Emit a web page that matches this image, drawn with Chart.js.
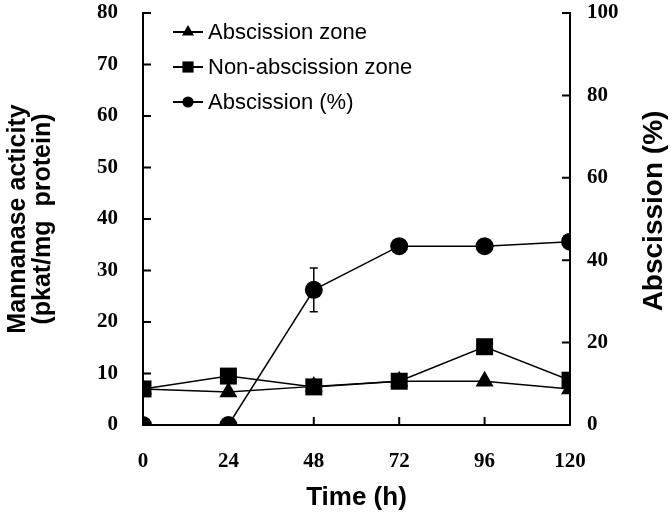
<!DOCTYPE html>
<html>
<head>
<meta charset="utf-8">
<script src="https://cdn.jsdelivr.net/npm/chart.js@4.4.1/dist/chart.umd.min.js"></script>
<style>
  html, body { margin: 0; padding: 0; background: #fff; }
  #wrap { width: 672px; height: 519px; }
</style>
</head>
<body>
<div id="wrap"><canvas id="chart"></canvas></div>
<script>
// time points (h)
const hours = [0, 24, 48, 72, 96, 120];
// mannanase activity, pkat/mg protein
const abscissionZone = [7.0, 6.4, 7.5, 8.5, 8.5, 7.0];
const nonAbscissionZone = [7.0, 9.5, 7.4, 8.5, 15.2, 8.7];
// abscission (%) on right axis
const abscissionPct = [0, 0, 32.8, 43.4, 43.4, 44.5];
const abscissionErr = [0, 0, 5.3, 0, 0, 0];

const seriesNames = ['Abscission zone', 'Non-abscission zone', 'Abscission (%)'];

const tickFont = { family: '"Liberation Serif", "Times New Roman", serif', size: 21, weight: 'bold' };
const titleFamily = '"Liberation Sans", Arial, sans-serif';

const toPoints = (ys) => hours.map((h, i) => ({ x: h, y: ys[i] }));

// ticks drawn inward from each axis line
const inwardTicks = {
    id: 'inwardTicks',
    afterDraw(chart) {
        const { ctx, chartArea } = chart;
        const len = 8;
        ctx.save();
        ctx.strokeStyle = '#000';
        ctx.lineWidth = 2;
        ctx.beginPath();
        chart.scales.x.ticks.forEach((t) => {
            const px = chart.scales.x.getPixelForValue(t.value);
            ctx.moveTo(px, chartArea.bottom);
            ctx.lineTo(px, chartArea.bottom - len);
        });
        chart.scales.y.ticks.forEach((t) => {
            const py = chart.scales.y.getPixelForValue(t.value);
            ctx.moveTo(chartArea.left, py);
            ctx.lineTo(chartArea.left + len, py);
        });
        chart.scales.y1.ticks.forEach((t) => {
            const py = chart.scales.y1.getPixelForValue(t.value);
            ctx.moveTo(chartArea.right, py);
            ctx.lineTo(chartArea.right - len, py);
        });
        ctx.stroke();
        ctx.restore();
    }
};

const errorBars = {
    id: 'errorBars',
    afterDatasetsDraw(chart) {
        const { ctx } = chart;
        const xs = chart.scales.x;
        const ys = chart.scales.y1;
        ctx.save();
        ctx.strokeStyle = '#000';
        ctx.lineWidth = 1.5;
        ctx.beginPath();
        hours.forEach((h, i) => {
            const err = abscissionErr[i];
            if (!err) return;
            const px = xs.getPixelForValue(h);
            const top = ys.getPixelForValue(abscissionPct[i] + err);
            const bot = ys.getPixelForValue(abscissionPct[i] - err);
            ctx.moveTo(px, top);
            ctx.lineTo(px, bot);
            ctx.moveTo(px - 4, top);
            ctx.lineTo(px + 4, top);
            ctx.moveTo(px - 4, bot);
            ctx.lineTo(px + 4, bot);
        });
        ctx.stroke();
        ctx.restore();
    }
};

function drawMarker(ctx, style, x, y, r) {
    ctx.beginPath();
    if (style === 'triangle') {
        ctx.moveTo(x, y - r);
        ctx.lineTo(x + r * 0.866, y + r * 0.5);
        ctx.lineTo(x - r * 0.866, y + r * 0.5);
        ctx.closePath();
    } else if (style === 'rect') {
        ctx.rect(x - r * 0.8, y - r * 0.8, r * 1.6, r * 1.6);
    } else {
        ctx.arc(x, y, r * 0.8, 0, Math.PI * 2);
    }
    ctx.fill();
}

// legend sits inside the plot, top-left; right title reads bottom-to-top
const insideLegend = {
    id: 'insideLegend',
    afterDraw(chart) {
        const { ctx } = chart;
        ctx.save();
        ctx.fillStyle = '#000';
        ctx.strokeStyle = '#000';
        ctx.lineWidth = 2;
        ctx.font = '22px ' + titleFamily;
        ctx.textBaseline = 'middle';
        chart.data.datasets.forEach((ds, i) => {
            const y = 32 + i * 35;
            ctx.beginPath();
            ctx.moveTo(173, y);
            ctx.lineTo(203, y);
            ctx.stroke();
            drawMarker(ctx, ds.pointStyle, 188, y, 7);
            ctx.fillText(ds.label, 208, y + 1);
        });

        ctx.translate(654, 211);
        ctx.rotate(-Math.PI / 2);
        ctx.textAlign = 'center';
        ctx.font = 'bold 28px ' + titleFamily;
        ctx.fillText('Abscission (%)', 0, 0);
        ctx.restore();
    }
};

const lineStyle = {
    borderColor: '#000',
    backgroundColor: '#000',
    borderWidth: 1.5,
    pointBorderWidth: 0,
    tension: 0,
    fill: false
};

// vertical axes: fixed width, top padding kept to the half label height
const fitVertical = (w) => (s) => {
    s.width = w;
    s.paddingTop = 13;
    s.paddingBottom = 0;
};

new Chart(document.getElementById('chart'), {
    type: 'line',
    data: {
        datasets: [
            { ...lineStyle, label: seriesNames[0], data: toPoints(abscissionZone), yAxisID: 'y', pointStyle: 'triangle', pointRadius: 10.4 },
            { ...lineStyle, label: seriesNames[1], data: toPoints(nonAbscissionZone), yAxisID: 'y', pointStyle: 'rect', pointRadius: 12 },
            { ...lineStyle, label: seriesNames[2], data: toPoints(abscissionPct), yAxisID: 'y1', pointStyle: 'circle', pointRadius: 9 }
        ]
    },
    options: {
        responsive: true,
        maintainAspectRatio: false,
        animation: false,
        layout: { padding: 0 },
        plugins: {
            legend: { display: false },
            tooltip: { enabled: false }
        },
        scales: {
            x: {
                type: 'linear',
                min: 0,
                max: 120,
                afterFit: (s) => { s.height = 94; },
                ticks: { stepSize: 24, color: '#000', font: tickFont, padding: 24 },
                grid: { display: false, drawTicks: false },
                border: { display: true, color: '#000', width: 2 },
                title: {
                    display: true,
                    text: 'Time (h)',
                    color: '#000',
                    font: { family: titleFamily, size: 26, weight: 'bold', lineHeight: 1.2 },
                    padding: { top: 0, bottom: 6 }
                }
            },
            y: {
                position: 'left',
                min: 0,
                max: 80,
                afterFit: fitVertical(143),
                ticks: { stepSize: 10, color: '#000', font: tickFont, padding: 25 },
                grid: { display: false, drawTicks: false },
                border: { display: true, color: '#000', width: 2 },
                title: {
                    display: true,
                    text: ['Mannanase acticity', '(pkat/mg  protein)'],
                    color: '#000',
                    font: { family: titleFamily, size: 25, weight: 'bold', lineHeight: 1.0 },
                    padding: { top: 6, bottom: 0 }
                }
            },
            y1: {
                position: 'right',
                min: 0,
                max: 100,
                afterFit: fitVertical(102),
                ticks: { stepSize: 20, color: '#000', font: tickFont, padding: 17 },
                grid: { display: false, drawTicks: false },
                border: { display: true, color: '#000', width: 2 }
            }
        }
    },
    plugins: [inwardTicks, errorBars, insideLegend]
});
</script>
</body>
</html>
